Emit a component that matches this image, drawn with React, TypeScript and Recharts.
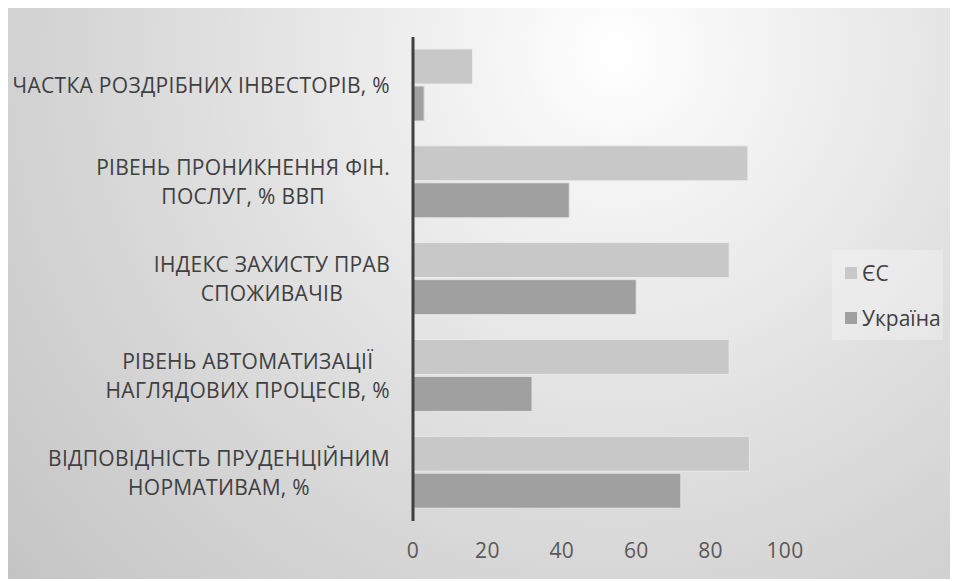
import React from "react";
import { BarChart, Bar, XAxis, YAxis } from "recharts";

const categories = [
  "ЧАСТКА РОЗДРІБНИХ ІНВЕСТОРІВ, %",
  "РІВЕНЬ ПРОНИКНЕННЯ ФІН.\nПОСЛУГ, % ВВП",
  "ІНДЕКС ЗАХИСТУ ПРАВ\nСПОЖИВАЧІВ",
  "РІВЕНЬ АВТОМАТИЗАЦІЇ\nНАГЛЯДОВИХ ПРОЦЕСІВ, %",
  "ВІДПОВІДНІСТЬ ПРУДЕНЦІЙНИМ\nНОРМАТИВАМ, %",
];
const euValues = [16, 90, 85, 85, 90.5];
const uaValues = [3, 42, 60, 32, 72];
const xTicks = [0, 20, 40, 60, 80, 100];
const seriesNames = ["ЄС", "Україна"];
const seriesColors = ["#c8c8c8", "#a0a0a0"];

const data = categories.map((name, i) => ({
  name,
  eu: euValues[i],
  ua: uaValues[i],
}));

const FONT = '"Open Sans", "Noto Sans", sans-serif';
const FS = 21;
const LS = 0.3;

let canvasCtx: CanvasRenderingContext2D | null = null;
function measure(text: string): number {
  if (typeof document !== "undefined") {
    if (!canvasCtx) {
      const c = document.createElement("canvas");
      canvasCtx = c.getContext("2d");
    }
    if (canvasCtx) {
      canvasCtx.font = `${FS}px "Open Sans"`;
      return canvasCtx.measureText(text).width + text.length * LS;
    }
  }
  return text.length * FS * 0.6;
}

const CategoryTick = (props: any) => {
  const { x, y, payload } = props;
  const lines: string[] = String(payload.value).split("\n");
  const maxW = Math.max(...lines.map(measure));
  const right = x - 23;
  const cx = right - maxW / 2;
  const lh = 29;
  const start = y - ((lines.length - 1) * lh) / 2;
  return (
    <g>
      {lines.map((ln, i) => (
        <text
          key={i}
          x={cx}
          y={start + i * lh + FS * 0.357}
          textAnchor="middle"
          fill="#404040"
          fontSize={FS}
          fontFamily={FONT}
          letterSpacing={LS}
        >
          {ln}
        </text>
      ))}
    </g>
  );
};

const ValueTick = (props: any) => {
  const { x, y, payload } = props;
  return (
    <text
      x={x}
      y={y + 37}
      textAnchor="middle"
      fill="#595959"
      fontSize={FS}
      fontFamily={FONT}
      letterSpacing={LS}
    >
      {payload.value}
    </text>
  );
};

const LegendBox = () => (
  <div
    style={{
      position: "absolute",
      left: 824,
      top: 243,
      width: 111,
      height: 90,
      background: "rgba(255,255,255,0.28)",
      fontFamily: FONT,
      fontSize: FS,
      color: "#404040",
    }}
  >
    {seriesNames.map((n, i) => (
      <div
        key={n}
        style={{
          position: "absolute",
          left: 13,
          top: 10 + i * 45,
          display: "flex",
          alignItems: "center",
          height: 26,
          whiteSpace: "nowrap",
          lineHeight: "26px",
        }}
      >
        <span
          style={{
            width: 12,
            height: 12,
            background: seriesColors[i],
            display: "inline-block",
            marginRight: 5,
          }}
        />
        <span>{n}</span>
      </div>
    ))}
  </div>
);

export default function App() {
  return (
    <div
      style={{
        width: 950,
        height: 573,
        marginTop: -2,
        boxSizing: "border-box",
        borderTop: "1px solid #c4c4c4",
        background:
          "radial-gradient(circle farthest-corner at 64% 8%, #ffffff 0%, #f3f3f3 18%, #dedede 52%, #c4c4c4 100%)",
        position: "relative",
      }}
    >
      <BarChart
        width={950}
        height={573}
        data={data}
        layout="vertical"
        margin={{ top: 30, right: 173, bottom: 0, left: 0 }}
        barCategoryGap={12}
        barGap={2}
      >
        <XAxis
          type="number"
          domain={[0, 100]}
          ticks={xTicks}
          axisLine={false}
          tickLine={false}
          tickSize={0}
          tickMargin={0}
          height={59}
          tick={<ValueTick />}
          interval={0}
        />
        <YAxis
          type="category"
          dataKey="name"
          width={405}
          axisLine={{ stroke: "#404040", strokeWidth: 3 }}
          tickLine={false}
          tickSize={0}
          tickMargin={0}
          tick={<CategoryTick />}
          interval={0}
        />
        <Bar
          dataKey="eu"
          name={seriesNames[0]}
          fill={seriesColors[0]}
          stroke="#ebebeb"
          strokeWidth={1}
          isAnimationActive={false}
        />
        <Bar
          dataKey="ua"
          name={seriesNames[1]}
          fill={seriesColors[1]}
          stroke="#e3e3e3"
          strokeWidth={1}
          isAnimationActive={false}
        />
      </BarChart>
      <LegendBox />
    </div>
  );
}
